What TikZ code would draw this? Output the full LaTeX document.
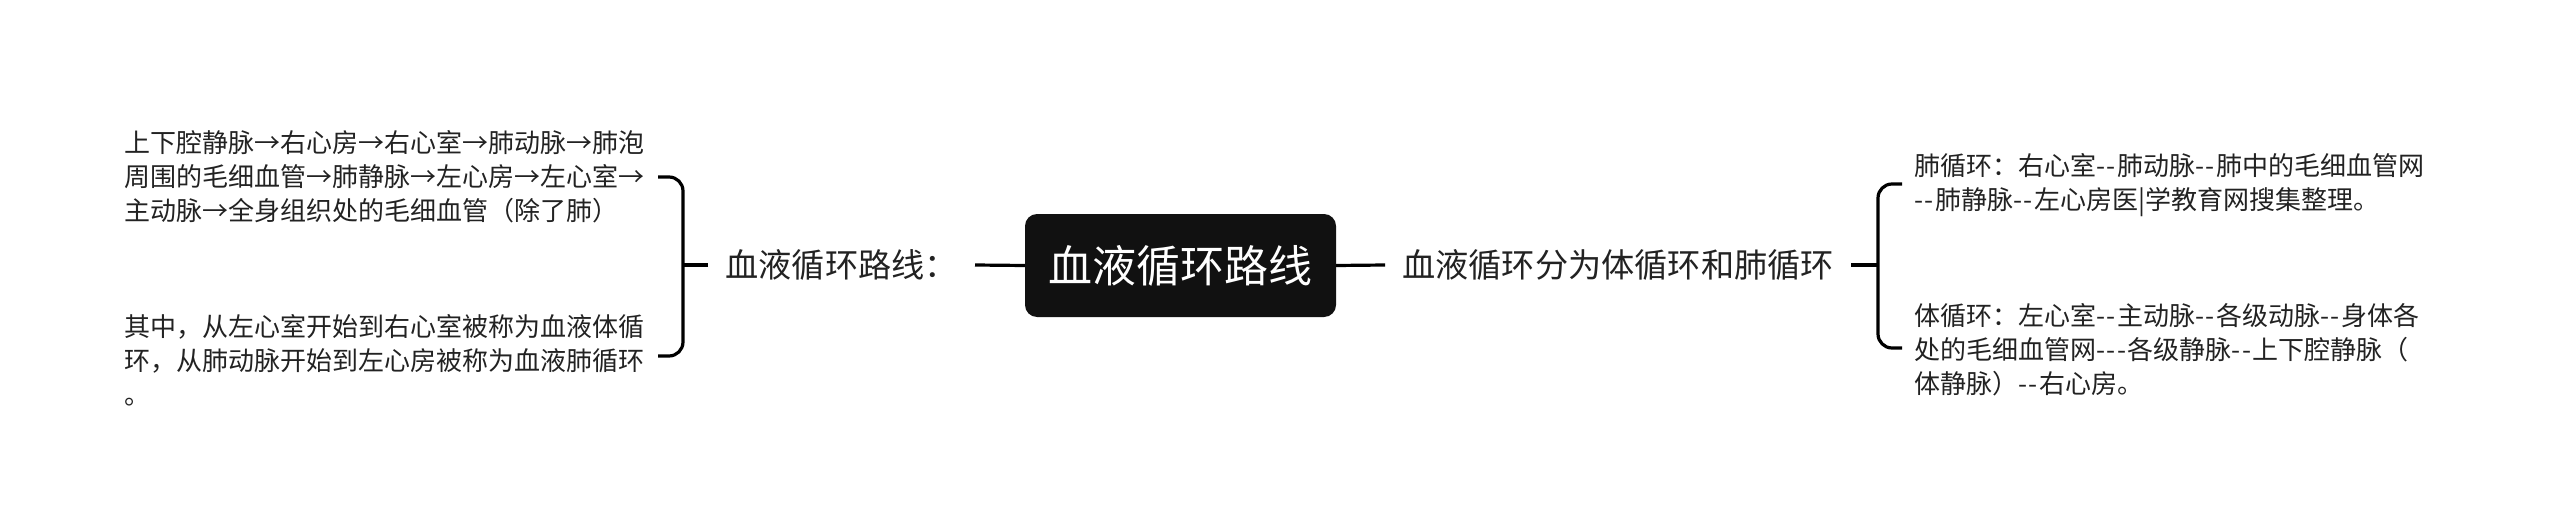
\documentclass[tikz,border=0pt]{standalone}
\usepackage{fontspec}
\setmainfont{Noto Sans CJK SC}
\definecolor{txt}{RGB}{34,34,34}
\definecolor{rootfill}{RGB}{17,17,17}
\newcommand\dsh{-\kern1.5pt-\kern1.5pt}
\begin{document}
\begin{tikzpicture}[x=1pt,y=-1pt,
  conn/.style={line width=3.2pt, draw=black},
  rootbox/.style={fill=rootfill, rounded corners=12pt, text=white, font=\fontsize{44}{52}\selectfont, minimum width=311pt, minimum height=103pt, inner sep=0pt},
  branch/.style={text=txt, font=\fontsize{33.2}{40}\selectfont, inner xsep=17pt, inner ysep=0pt},
  leaf/.style={text=txt, font=\fontsize{26}{34}\selectfont, align=left, inner sep=0pt, anchor=west},
  brace/.style={line width=3.2pt, draw=black, rounded corners=14pt}]
\useasboundingbox (0,0) rectangle (2560,532);
\node[rootbox] (root) at (1180.5,265.5) {血液循环路线};
\node[branch, anchor=east] (L) at (975,265) {血液循环路线：};
\node[branch, anchor=west] (R) at (1385,265) {血液循环分为体循环和肺循环};
\draw[conn] (root.west) -- (L.east);
\draw[conn] (root.east) -- (R.west);
% left side
\node[leaf] (l1) at (124,177) {上下腔静脉→右心房→右心室→肺动脉→肺泡\\周围的毛细血管→肺静脉→左心房→左心室→\\主动脉→全身组织处的毛细血管（除了肺）};
\node[leaf] (l2) at (124,360) {其中，从左心室开始到右心室被称为血液体循\\环，从肺动脉开始到左心房被称为血液肺循环\\。};
\coordinate (lb) at (683,265);
\coordinate (lt) at (658,177);
\coordinate (lbo) at (658,356);
\draw[conn] (L.west) -- (lb);
\draw[brace] (lt) -| (lb) |- (lbo);
% right side
\node[leaf] (r1) at (1914,185) {肺循环：右心室\dsh 肺动脉\dsh 肺中的毛细血管网\\\dsh 肺静脉\dsh 左心房医|学教育网搜集整理。};
\node[leaf] (r2) at (1914,350) {体循环：左心室\dsh 主动脉\dsh 各级动脉\dsh 身体各\\处的毛细血管网-\kern1.5pt-\kern1.5pt-\kern1.5pt 各级静脉\dsh 上下腔静脉（\\体静脉）\dsh 右心房。};
\coordinate (rb) at (1878,265);
\coordinate (rt) at (1902,184);
\coordinate (rbo) at (1902,348);
\draw[conn] (R.east) -- (rb);
\draw[brace] (rt) -| (rb) |- (rbo);
\end{tikzpicture}
\end{document}
